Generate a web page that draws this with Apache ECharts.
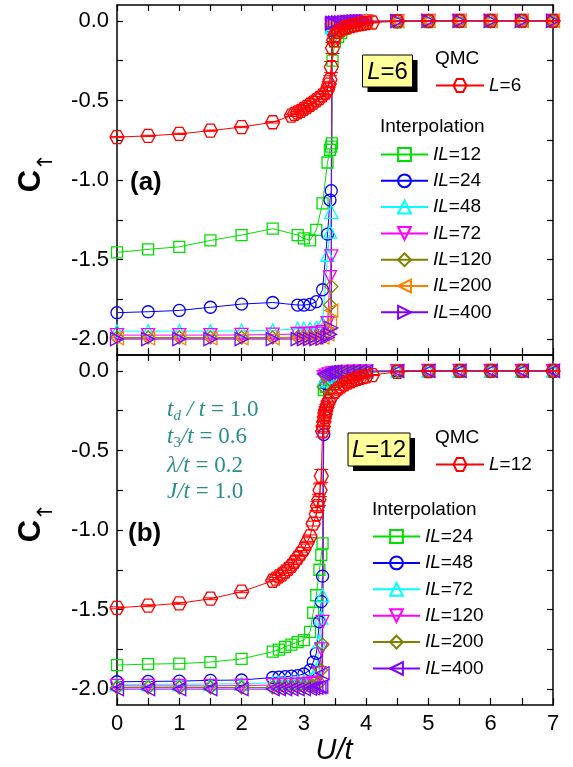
<!DOCTYPE html>
<html><head><meta charset="utf-8">
<script src="https://cdn.jsdelivr.net/npm/echarts@6/dist/echarts.min.js"></script>
<style>html,body{margin:0;padding:0;background:#fff}#c{width:573px;height:767px}</style>
</head><body><div id="c"></div>
<script>
// ---------- data ----------
const xTicks = [0,1,2,3,4,5,6,7];
const yTicks = [-2,-1.5,-1,-0.5,0];
const yMinor = [-2,-1.75,-1.5,-1.25,-1,-0.75,-0.5,-0.25,0];

// panel (a) QMC L=6
const uQa = [0,0.5,1,1.5,2,2.5,2.8,2.85,2.9,2.95,3.0,3.05,3.1,3.15,3.2,3.25,3.3,3.35,3.38,3.4,3.42,3.44,3.46,3.48,3.5,3.55,3.6,3.65,3.7,3.75,3.8,3.85,3.9,3.95,4.0,4.1,4.5,5,5.5,6,6.5,7];
const cQa = [-0.73,-0.723,-0.71,-0.69,-0.667,-0.637,-0.595,-0.585,-0.575,-0.565,-0.553,-0.54,-0.527,-0.514,-0.5,-0.485,-0.468,-0.45,-0.43,-0.4,-0.37,-0.29,-0.17,-0.12,-0.09,-0.068,-0.055,-0.046,-0.039,-0.033,-0.028,-0.024,-0.02,-0.017,-0.014,-0.01,-0.003,-0.001,0,0,0,0];
const eQa = [0.004,0.004,0.004,0.004,0.004,0.005,0.006,0.006,0.006,0.006,0.006,0.007,0.008,0.008,0.008,0.009,0.01,0.012,0.015,0.02,0.025,0.035,0.035,0.025,0.02,0.012,0.01,0.008,0.007,0.006,0.005,0.005,0.004,0.004,0.004,0.003,0.002,0.001,0.001,0.001,0.001,0.001];

// panel (a) interpolation
const uA = [0,0.5,1,1.5,2,2.5,2.9,3.0,3.1,3.2,3.3,3.38,3.42,3.44,3.45,3.46,3.5,3.55,3.6,3.65,3.7,3.75,3.8,3.85,3.9,3.95,4.0,4.5,5,5.5,6,6.5,7];
const aIL12  = [-1.455,-1.436,-1.42,-1.38,-1.346,-1.306,-1.346,-1.367,-1.38,-1.314,-1.147,-0.89,-0.81,-0.79,-0.77,-0.25,-0.13,-0.1,-0.075,-0.05,-0.036,-0.027,-0.021,-0.016,-0.012,-0.009,-0.007,-0.001,0,0,0,0,0];
const aIL24  = [-1.834,-1.828,-1.82,-1.80,-1.78,-1.77,-1.786,-1.786,-1.782,-1.765,-1.69,-1.34,-1.126,-1.067,-0.06,-0.05,-0.045,-0.033,-0.026,-0.02,-0.016,-0.013,-0.011,-0.009,-0.007,-0.006,-0.005,-0.001,0,0,0,0,0];
const aIL48  = [-1.95,-1.95,-1.95,-1.95,-1.948,-1.945,-1.935,-1.935,-1.935,-1.93,-1.9,-1.47,-1.325,-1.2,-0.04,-0.032,-0.028,-0.022,-0.018,-0.015,-0.012,-0.01,-0.008,-0.007,-0.006,-0.005,-0.004,-0.001,0,0,0,0,0];
const aIL72  = [-1.975,-1.975,-1.975,-1.975,-1.974,-1.972,-1.968,-1.968,-1.967,-1.965,-1.955,-1.9,-1.61,-1.48,-0.03,-0.026,-0.022,-0.018,-0.015,-0.012,-0.01,-0.008,-0.007,-0.006,-0.005,-0.004,-0.003,-0.001,0,0,0,0,0];
const aIL120 = [-1.99,-1.99,-1.99,-1.99,-1.99,-1.99,-1.988,-1.988,-1.987,-1.985,-1.98,-1.95,-1.786,-1.67,-0.025,-0.02,-0.016,-0.013,-0.011,-0.009,-0.008,-0.007,-0.006,-0.005,-0.004,-0.003,-0.003,-0.001,0,0,0,0,0];
const aIL200 = [-1.995,-1.995,-1.995,-1.995,-1.995,-1.995,-1.994,-1.994,-1.993,-1.992,-1.99,-1.97,-1.9,-1.82,-0.02,-0.015,-0.013,-0.011,-0.009,-0.008,-0.007,-0.006,-0.005,-0.004,-0.003,-0.003,-0.002,-0.001,0,0,0,0,0];
const aIL400 = [-2.0,-2.0,-2.0,-2.0,-2.0,-2.0,-2.0,-2.0,-2.0,-2.0,-1.998,-1.99,-1.97,-1.93,-0.015,-0.012,-0.01,-0.009,-0.008,-0.007,-0.006,-0.005,-0.004,-0.003,-0.003,-0.002,-0.002,-0.001,0,0,0,0,0];

// panel (b) QMC L=12
const uQb = [0,0.5,1,1.5,2,2.5,2.55,2.6,2.65,2.7,2.75,2.8,2.85,2.9,2.95,3.0,3.05,3.1,3.15,3.2,3.22,3.24,3.26,3.28,3.3,3.31,3.32,3.33,3.34,3.35,3.36,3.38,3.4,3.45,3.5,3.55,3.6,3.65,3.7,3.75,3.8,3.85,3.9,3.95,4.0,4.1,4.5,5,5.5,6,6.5,7];
const cQb = [-1.489,-1.476,-1.461,-1.432,-1.388,-1.319,-1.305,-1.292,-1.279,-1.262,-1.245,-1.225,-1.2,-1.175,-1.148,-1.12,-1.08,-1.04,-0.96,-0.9,-0.85,-0.81,-0.75,-0.66,-0.38,-0.35,-0.32,-0.29,-0.27,-0.25,-0.235,-0.21,-0.19,-0.155,-0.13,-0.112,-0.097,-0.085,-0.074,-0.065,-0.057,-0.05,-0.044,-0.039,-0.034,-0.026,-0.006,-0.001,0,0,0,0];
const eQb = [0.006,0.006,0.006,0.006,0.006,0.006,0.007,0.007,0.007,0.007,0.007,0.007,0.007,0.007,0.009,0.009,0.009,0.009,0.015,0.02,0.03,0.035,0.04,0.04,0.035,0.03,0.03,0.03,0.028,0.025,0.022,0.02,0.018,0.012,0.01,0.008,0.007,0.006,0.005,0.005,0.004,0.004,0.004,0.003,0.003,0.003,0.001,0.001,0.001,0.001,0.001,0.001];

// panel (b) interpolation
const uB = [0,0.5,1,1.5,2,2.5,2.6,2.7,2.8,2.9,3.0,3.1,3.15,3.2,3.25,3.28,3.3,3.32,3.35,3.4,3.45,3.5,3.6,3.7,3.8,3.9,4.0,4.5,5,5.5,6,6.5,7];
const bIL24  = [-1.849,-1.843,-1.84,-1.83,-1.81,-1.765,-1.752,-1.735,-1.72,-1.705,-1.692,-1.64,-1.52,-1.41,-1.25,-1.157,-1.084,-0.12,-0.1,-0.08,-0.065,-0.05,-0.035,-0.025,-0.018,-0.013,-0.01,-0.002,0,0,0,0,0];
const bIL48  = [-1.954,-1.952,-1.95,-1.945,-1.943,-1.927,-1.925,-1.922,-1.918,-1.915,-1.905,-1.88,-1.83,-1.775,-1.577,-1.45,-1.29,-0.4,-0.08,-0.045,-0.032,-0.025,-0.017,-0.012,-0.008,-0.006,-0.004,-0.001,0,0,0,0,0];
const bIL72  = [-1.97,-1.97,-1.97,-1.968,-1.967,-1.96,-1.96,-1.958,-1.957,-1.955,-1.952,-1.945,-1.93,-1.88,-1.7,-1.55,-1.41,-0.06,-0.04,-0.03,-0.022,-0.017,-0.012,-0.009,-0.007,-0.005,-0.004,-0.001,0,0,0,0,0];
const bIL120 = [-1.98,-1.98,-1.98,-1.98,-1.978,-1.975,-1.975,-1.974,-1.973,-1.972,-1.97,-1.968,-1.965,-1.96,-1.9,-1.75,-1.577,-0.04,-0.03,-0.022,-0.016,-0.012,-0.009,-0.007,-0.005,-0.004,-0.003,-0.001,0,0,0,0,0];
const bIL200 = [-1.99,-1.99,-1.99,-1.99,-1.99,-1.99,-1.99,-1.99,-1.99,-1.988,-1.987,-1.985,-1.98,-1.975,-1.96,-1.88,-1.72,-0.1,-0.03,-0.018,-0.013,-0.01,-0.008,-0.006,-0.005,-0.004,-0.003,-0.001,0,0,0,0,0];
const bIL400 = [-2.0,-2.0,-2.0,-2.0,-2.0,-2.0,-2.0,-2.0,-2.0,-2.0,-2.0,-1.998,-1.995,-1.992,-1.988,-1.985,-1.9,-0.02,-0.012,-0.009,-0.007,-0.006,-0.005,-0.004,-0.003,-0.003,-0.002,-0.001,0,0,0,0,0];

// ---------- chart ----------
const F = 'Liberation Sans, Arial, Helvetica, sans-serif';
const SERIF = 'Liberation Serif, Times New Roman, serif';
const HEX = 'path://M0,8.66 L5,0 L15,0 L20,8.66 L15,17.32 L5,17.32 Z';
const C = {red:'#FF0000', green:'#00E000', blue:'#0000FF', cyan:'#00FFFF', mag:'#FF00FF', olive:'#808000', orange:'#FF8000', violet:'#8000FF'};

function xAxes(g){
  const line = {show:true, onZero:false, lineStyle:{color:'#000', width:1.5}};
  return [
    {gridIndex:g, type:'value', min:0, max:7, interval:1, position:'bottom', axisLine:line,
     axisTick:{show:true, inside:true, length:7, lineStyle:{color:'#000', width:1.2}},
     minorTick:{show:true, splitNumber:2, length:7, lineStyle:{color:'#000', width:1.2}},
     axisLabel:{show:g===1, margin:8, fontSize:22, color:'#000', fontFamily:F, customValues:xTicks},
     splitLine:{show:false}, minorSplitLine:{show:false}},
    {gridIndex:g, type:'value', min:0, max:7, interval:0.5, position:'top', axisLine:line,
     axisTick:{show:true, inside:true, length:6, lineStyle:{color:'#000', width:1.2}},
     axisLabel:{show:false}, splitLine:{show:false}}
  ];
}
function yAxes(g){
  const line = {show:true, onZero:false, lineStyle:{color:'#000', width:1.5}};
  return [
    {gridIndex:g, type:'value', min:-2.1, max:0.1, position:'left', axisLine:line,
     axisTick:{show:true, inside:true, length:6, customValues:yMinor, lineStyle:{color:'#000', width:1.2}},
     axisLabel:{show:true, margin:8, fontSize:22, color:'#000', fontFamily:F, customValues:yTicks,
       formatter:v=>Number(v).toFixed(1)},
     splitLine:{show:false}},
    {gridIndex:g, type:'value', min:-2.1, max:0.1, position:'right', axisLine:line,
     axisTick:{show:true, inside:true, length:6, customValues:yMinor, lineStyle:{color:'#000', width:1.2}},
     axisLabel:{show:false}, splitLine:{show:false}}
  ];
}
function ls(name, xs, ys, g, color, sym, rot, size, z){
  return {type:'line', name, xAxisIndex:2*g, yAxisIndex:2*g,
    data: xs.map((x,i)=>[x, ys[i]]), symbol:sym, symbolRotate:rot, symbolSize:size,
    showAllSymbol:true, z:z||2, animation:false, clip:true,
    lineStyle:{color, width:1},
    itemStyle:{color:'rgba(255,255,255,0)', borderColor:color, borderWidth:1.3},
    emphasis:{disabled:true}};
}
function errs(xs, ys, es, g){
  return {type:'custom', xAxisIndex:2*g, yAxisIndex:2*g, z:4, animation:false, silent:true,
    data: xs.map((x,i)=>[x, ys[i], es[i]]),
    renderItem:(params, api)=>{
      const x = api.value(0), y = api.value(1), e = api.value(2);
      const p1 = api.coord([x, y+e]), p2 = api.coord([x, y-e]);
      const w = 7, st = {stroke:C.red, lineWidth:1};
      return {type:'group', children:[
        {type:'line', shape:{x1:p1[0], y1:p1[1], x2:p2[0], y2:p2[1]}, style:st},
        {type:'line', shape:{x1:p1[0]-w, y1:p1[1], x2:p1[0]+w, y2:p1[1]}, style:st},
        {type:'line', shape:{x1:p2[0]-w, y1:p2[1], x2:p2[0]+w, y2:p2[1]}, style:st}
      ]};
    }};
}

const series = [
  ls('a:IL=12', uA, aIL12, 0, C.green, 'rect', 0, 11),
  ls('a:IL=24', uA, aIL24, 0, C.blue, 'circle', 0, 12),
  ls('a:IL=48', uA, aIL48, 0, C.cyan, 'triangle', 0, 13),
  ls('a:IL=72', uA, aIL72, 0, C.mag, 'triangle', 180, 13),
  ls('a:IL=120', uA, aIL120, 0, C.olive, 'diamond', 0, 13),
  ls('a:IL=200', uA, aIL200, 0, C.orange, 'triangle', 90, 13),
  ls('a:IL=400', uA, aIL400, 0, C.violet, 'triangle', -90, 13),
  ls('a:L=6', uQa, cQa, 0, C.red, HEX, 0, [14,13], 5),
  errs(uQa, cQa, eQa, 0),
  ls('b:IL=24', uB, bIL24, 1, C.green, 'rect', 0, 11),
  ls('b:IL=48', uB, bIL48, 1, C.blue, 'circle', 0, 12),
  ls('b:IL=72', uB, bIL72, 1, C.cyan, 'triangle', 0, 13),
  ls('b:IL=120', uB, bIL120, 1, C.mag, 'triangle', 180, 13),
  ls('b:IL=200', uB, bIL200, 1, C.olive, 'diamond', 0, 13),
  ls('b:IL=400', uB, bIL400, 1, C.violet, 'triangle', 90, 13),
  ls('b:L=12', uQb, cQb, 1, C.red, HEX, 0, [14,13], 5),
  errs(uQb, cQb, eQb, 1)
];

const legRich = {
  i:{fontStyle:'italic', fontSize:19, fontFamily:F, color:'#000', lineHeight:16},
  n:{fontSize:19, fontFamily:F, color:'#000', lineHeight:16}
};
function legFmt(name){
  const s = name.slice(2);
  if (s.startsWith('IL')) return '{i|IL}{n|' + s.slice(2) + '}';
  return '{i|L}{n|' + s.slice(1) + '}';
}
function leg(data, left, top, gap, w){
  return {data, left, top, orient:'vertical', itemWidth:w, itemHeight:16, itemGap:gap,
    padding:0, selectedMode:false, formatter:legFmt,
    textStyle:{fontSize:19, fontFamily:F, color:'#000', lineHeight:16, rich:legRich}};
}

const boxTxtRich = {i:{fontStyle:'italic', fontSize:24, fontFamily:F, fill:'#000'}, n:{fontSize:24, fontFamily:F, fill:'#000'}};
function box(x, y, w, h, txt){
  return [
    {type:'rect', shape:{x:x+5, y:y+5, width:w, height:h}, style:{fill:'#000'}, z:100},
    {type:'rect', shape:{x, y, width:w, height:h}, style:{fill:'#FFFF99', stroke:'#000', lineWidth:1}, z:101},
    {type:'text', x:x+w/2, y:y+h/2+1, z:102, style:{text:txt, rich:boxTxtRich, align:'center', verticalAlign:'middle', fontSize:24, fontFamily:F, fill:'#000'}}
  ];
}
function txt(x, y, s, o){
  return Object.assign({type:'text', x, y, z:100, style:Object.assign({text:s, fontSize:19, fontFamily:F, fill:'#000', align:'left', verticalAlign:'middle'}, o||{})});
}
const TEAL = '#2A8C8C';
const pRich = {
  it:{fontStyle:'italic', fontSize:23, fontFamily:SERIF, fill:TEAL, lineHeight:28},
  n:{fontSize:23, fontFamily:SERIF, fill:TEAL, lineHeight:28},
  si:{fontStyle:'italic', fontSize:15, fontFamily:SERIF, fill:TEAL, lineHeight:18, verticalAlign:'bottom'},
  s:{fontSize:15, fontFamily:SERIF, fill:TEAL, lineHeight:18, verticalAlign:'bottom'}
};
function ptxt(y, s){
  return {type:'text', x:167, y, z:100, style:{text:s, rich:pRich, align:'left', verticalAlign:'middle', fontSize:23, fontFamily:SERIF, fill:TEAL}};
}

const graphic = [
  ...box(362.5, 55, 50, 32, '{i|L}{n|=6}'),
  ...box(348, 433, 62, 33, '{i|L}{n|=12}'),
  txt(435, 59, 'QMC'),
  txt(380, 127, 'Interpolation'),
  txt(435, 438, 'QMC'),
  txt(372, 510, 'Interpolation'),
  txt(130, 183, '(a)', {fontSize:26, fontWeight:'bold'}),
  txt(128, 534, '(b)', {fontSize:26, fontWeight:'bold'}),
  {type:'text', x:31, y:181, rotation:Math.PI/2, z:100, style:{text:'C', fontSize:31, fontWeight:'bold', fontFamily:F, fill:'#000', align:'center', verticalAlign:'middle'}},
  {type:'text', x:47, y:162, rotation:Math.PI/2, z:100, style:{text:'↑', fontSize:21, fontFamily:'DejaVu Sans, sans-serif', fill:'#000', align:'center', verticalAlign:'middle'}},
  {type:'text', x:31, y:531, rotation:Math.PI/2, z:100, style:{text:'C', fontSize:31, fontWeight:'bold', fontFamily:F, fill:'#000', align:'center', verticalAlign:'middle'}},
  {type:'text', x:47, y:512, rotation:Math.PI/2, z:100, style:{text:'↑', fontSize:21, fontFamily:'DejaVu Sans, sans-serif', fill:'#000', align:'center', verticalAlign:'middle'}},
  {type:'text', x:334, y:751, z:100, style:{text:'U/t', fontSize:29, fontStyle:'italic', fontFamily:F, fill:'#000', align:'center', verticalAlign:'middle'}},
  ptxt(410, '{it|t}{si|d}{it| / t}{n| = 1.0}'),
  ptxt(437, '{it|t}{s|3}{it|/t}{n| = 0.6}'),
  ptxt(466, '{it|λ/t}{n| = 0.2}'),
  ptxt(492, '{it|J/t}{n| = 1.0}')
];

const option = {
  animation:false,
  backgroundColor:'#fff',
  grid:[
    {left:117, top:5, width:436, height:350, containLabel:false},
    {left:117, top:355, width:436, height:350, containLabel:false}
  ],
  xAxis:[...xAxes(0), ...xAxes(1)],
  yAxis:[...yAxes(0), ...yAxes(1)],
  legend:[
    leg(['a:L=6'], 435, 76, 10, 48),
    leg(['a:IL=12','a:IL=24','a:IL=48','a:IL=72','a:IL=120','a:IL=200','a:IL=400'], 380, 145, 7.3, 47),
    leg(['b:L=12'], 435, 455, 10, 48),
    leg(['b:IL=24','b:IL=48','b:IL=72','b:IL=120','b:IL=200','b:IL=400'], 372, 527, 7.4, 47)
  ],
  series,
  graphic
};
const chart = echarts.init(document.getElementById('c'), null, {renderer:'canvas'});
chart.setOption(option);
</script></body></html>
